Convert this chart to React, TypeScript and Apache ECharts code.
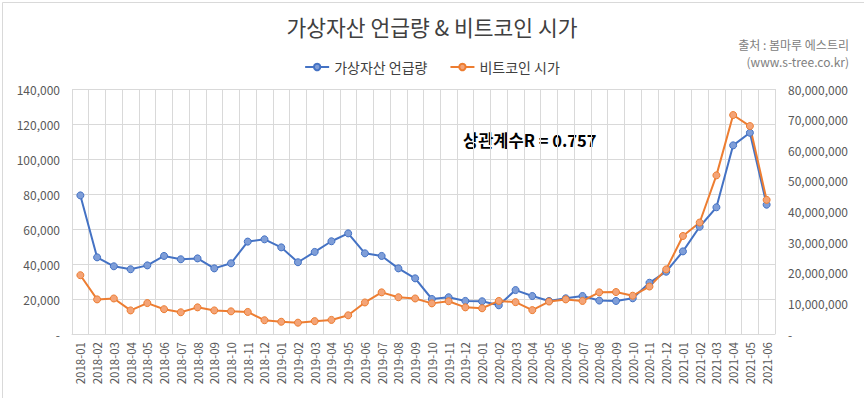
import React, { useEffect, useRef } from "react";
import * as echarts from "echarts";

const categories = [
  "2018-01","2018-02","2018-03","2018-04","2018-05","2018-06","2018-07","2018-08","2018-09","2018-10","2018-11","2018-12",
  "2019-01","2019-02","2019-03","2019-04","2019-05","2019-06","2019-07","2019-08","2019-09","2019-10","2019-11","2019-12",
  "2020-01","2020-02","2020-03","2020-04","2020-05","2020-06","2020-07","2020-08","2020-09","2020-10","2020-11","2020-12",
  "2021-01","2021-02","2021-03","2021-04","2021-05","2021-06",
];

const mentions = [
  79200, 43800, 38700, 37000, 39200, 44600, 42700, 43200, 37500, 40400, 52800, 54100,
  49500, 41000, 46900, 53000, 57500, 46100, 44600, 37500, 31800, 20000, 21000, 18900,
  18700, 16400, 25100, 21700, 18900, 20400, 21700, 19100, 18900, 20400, 29300, 35600,
  47200, 61300, 72400, 107800, 115000, 73900,
];

const btcPrice = [
  19200000, 11300000, 11600000, 7700000, 10100000, 8100000, 7100000, 8700000, 7700000, 7400000, 7200000, 4500000,
  4000000, 3700000, 4200000, 4600000, 6100000, 10300000, 13600000, 12000000, 11600000, 10000000, 10700000, 8700000,
  8400000, 10800000, 10400000, 7800000, 10600000, 11300000, 10800000, 13600000, 13700000, 12500000, 15500000, 21100000,
  32000000, 36400000, 51800000, 71500000, 67900000, 43800000,
];

const seriesNames = ["가상자산 언급량", "비트코인 시가"];
const titleText = "가상자산 언급량 & 비트코인 시가";
const sourceLines = ["출처 : 봄마루 에스트리", "(www.s-tree.co.kr)"];
const annotation = "상관계수R = 0.757";

const FONT = "'Noto Sans CJK KR', 'Noto Sans', sans-serif";

const fmt = (v: number) => (v === 0 ? "-" : v.toLocaleString("en-US"));

export default function App() {
  const ref = useRef<HTMLDivElement>(null);
  useEffect(() => {
    if (!ref.current) return;
    const chart = echarts.init(ref.current, undefined, { renderer: "svg" });
    chart.setOption({
      animation: false,
      backgroundColor: "#ffffff",
      textStyle: { fontFamily: FONT },
      title: {
        text: titleText,
        left: "center",
        top: 11,
        textStyle: { fontFamily: FONT, fontSize: 21.5, fontWeight: "normal", color: "#404040" },
      },
      legend: {
        top: 55,
        left: "center",
        itemWidth: 24,
        itemHeight: 8,
        itemGap: 22,
        textStyle: { fontFamily: FONT, fontSize: 14, color: "#404040" },
        data: seriesNames,
      },
      grid: { left: 72, right: 89, top: 89, bottom: 64, containLabel: false },
      graphic: [
        {
          type: "rect",
          left: 0,
          top: 0,
          shape: { x: 0.5, y: 0.5, width: 863, height: 397 },
          style: { fill: "none", stroke: "#d9d9d9", lineWidth: 1 },
          silent: true,
        },
        {
          type: "text",
          right: 15,
          top: 38,
          style: { text: sourceLines[0], font: `12px ${FONT}`, fill: "#808080", textAlign: "right" },
        },
        {
          type: "text",
          right: 15,
          top: 55,
          style: { text: sourceLines[1], font: `12px ${FONT}`, fill: "#808080", textAlign: "right" },
        },
        {
          type: "text",
          left: 463,
          top: 132,
          style: { text: annotation, font: `bold 16.5px ${FONT}`, fill: "#000000" },
        },
      ],
      xAxis: {
        type: "category",
        data: categories,
        boundaryGap: true,
        axisLine: { show: true, lineStyle: { color: "#d9d9d9" } },
        axisTick: { show: false },
        axisLabel: { interval: 0, rotate: 90, fontSize: 11.5, color: "#595959", margin: 8, fontFamily: FONT },
        splitLine: { show: true, interval: 0, lineStyle: { color: "#d9d9d9" } },
      },
      yAxis: [
        {
          type: "value",
          min: 0,
          max: 140000,
          interval: 20000,
          axisLine: { show: false },
          axisTick: { show: false },
          axisLabel: { formatter: fmt, fontSize: 12, color: "#595959", margin: 12, fontFamily: FONT },
          splitLine: { show: true, lineStyle: { color: "#d9d9d9" } },
        },
        {
          type: "value",
          min: 0,
          max: 80000000,
          interval: 10000000,
          position: "right",
          axisLine: { show: false },
          axisTick: { show: false },
          axisLabel: { formatter: fmt, fontSize: 12, color: "#595959", margin: 13, fontFamily: FONT },
          splitLine: { show: false },
        },
      ],
      series: [
        {
          name: seriesNames[0],
          type: "line",
          yAxisIndex: 0,
          data: mentions,
          symbol: "circle",
          symbolSize: 7,
          lineStyle: { color: "#4472C4", width: 2 },
          itemStyle: { color: "#7f9ed8", borderColor: "#4472C4", borderWidth: 1 },
        },
        {
          name: seriesNames[1],
          type: "line",
          yAxisIndex: 1,
          data: btcPrice,
          symbol: "circle",
          symbolSize: 7,
          lineStyle: { color: "#ED7D31", width: 2 },
          itemStyle: { color: "#f4a477", borderColor: "#ED7D31", borderWidth: 1 },
        },
      ],
    });
    return () => chart.dispose();
  }, []);
  return (
    <div
      ref={ref}
      style={{ position: "fixed", left: 0, top: 0, width: 864, height: 398 }}
    />
  );
}
